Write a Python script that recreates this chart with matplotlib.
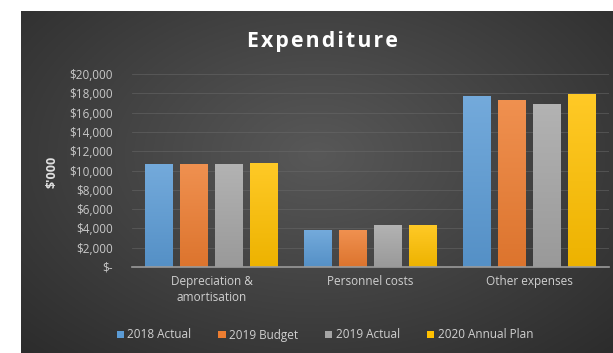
import matplotlib.pyplot as plt
import numpy as np
from matplotlib.colors import to_rgb
from matplotlib.patches import Patch

# expenditure in $'000
categories = ["Depreciation &\namortisation", "Personnel costs", "Other expenses"]
series = ["2018 Actual", "2019 Budget", "2019 Actual", "2020 Annual Plan"]
actual_2018 = [10600, 3800, 17650]
budget_2019 = [10600, 3780, 17250]
actual_2019 = [10600, 4250, 16850]
plan_2020 = [10700, 4350, 17900]
yticks = list(range(0, 20001, 2000))

colors = ["#5B9BD5", "#ED7D31", "#A5A5A5", "#FFC000"]
values = [actual_2018, budget_2019, actual_2019, plan_2020]

W, H = 613, 353
fig = plt.figure(figsize=(W / 100, H / 100), dpi=100, facecolor="white")

# dark panel with a soft radial glow
bg = fig.add_axes([21 / W, 0, 1 - 21 / W, 1 - 11 / H])
bg.set_axis_off()
yy, xx = np.mgrid[0:1:200j, 0:1:300j]
r = np.sqrt(((xx - 0.5) / 0.75) ** 2 + ((yy - 0.42) / 0.85) ** 2)
r = np.clip(r, 0, 1)
inner, outer = np.array(to_rgb("#585858")), np.array(to_rgb("#2a2a2a"))
img = inner[None, None, :] * (1 - r[..., None]) + outer[None, None, :] * r[..., None]
bg.imshow(img, aspect="auto", extent=[0, 1, 0, 1], origin="upper")

ax = fig.add_axes([132 / W, 1 - 267 / H, 477 / W, (267 - 74) / H])
ax.patch.set_alpha(0)

x = np.arange(len(categories))
width = 0.176
offsets = [-0.33, -0.11, 0.11, 0.33]


def gradient_bar(ax, xc, h, color):
    # vertical shade: a touch lighter at the top of each bar
    c = np.array(to_rgb(color))
    top = c + (1 - c) * 0.15
    bot = c * 0.93
    t = np.linspace(0, 1, 64)[:, None]
    col = top * (1 - t) + bot * t
    ax.imshow(col[:, None, :], extent=[xc - width / 2, xc + width / 2, 0, h],
              aspect="auto", zorder=3, origin="upper")


for vals, off, c in zip(values, offsets, colors):
    for xi, v in zip(x, vals):
        gradient_bar(ax, xi + off, v, c)

ax.set_xlim(-0.5, len(categories) - 0.5)
ax.set_ylim(0, 20000)
ax.set_yticks(yticks)
ax.set_yticklabels(["$-" if t == 0 else f"${t:,}" for t in yticks])
ax.set_xticks(x)
ax.set_xticklabels(categories)

font = "Open Sans"
for lbl in ax.get_yticklabels():
    lbl.set(color="#c8c8c8", fontsize=8.5, family=font)
for lbl in ax.get_xticklabels():
    lbl.set(color="#d0d0d0", fontsize=8.5, family=font, linespacing=1.3)

ax.tick_params(length=0, pad=6)
ax.tick_params(axis="y", pad=14)
ax.grid(axis="y", color="#6a6a6a", linewidth=0.6, alpha=0.6, zorder=0)
ax.set_axisbelow(True)
for s in ["top", "right", "left"]:
    ax.spines[s].set_visible(False)
ax.spines["bottom"].set(color="#9a9a9a", linewidth=1.2, zorder=4)

fig.text(52 / W, 1 - 172 / H, "$'000", rotation=90, color="#e0e0e0",
         fontsize=9, fontweight="bold", family=font, ha="center", va="center")
fig.text(322 / W, 1 - 42 / H, "E x p e n d i t u r e".replace(" ", "\u200a"),
         color="white", fontsize=15.3, fontweight="bold", family=["Open Sans", "DejaVu Sans"],
         ha="center", va="center")

handles = [Patch(facecolor=c, edgecolor="none") for c in colors]
leg = fig.legend(handles, series, loc="center", bbox_to_anchor=(325 / W, 1 - 335 / H),
                 ncol=4, frameon=False, handlelength=0.6, handleheight=0.6,
                 handletextpad=0.3, columnspacing=2.3,
                 prop={"family": font, "size": 8.5})
for t in leg.get_texts():
    t.set_color("#d0d0d0")

fig.savefig("out.png", dpi=100, facecolor="white")
